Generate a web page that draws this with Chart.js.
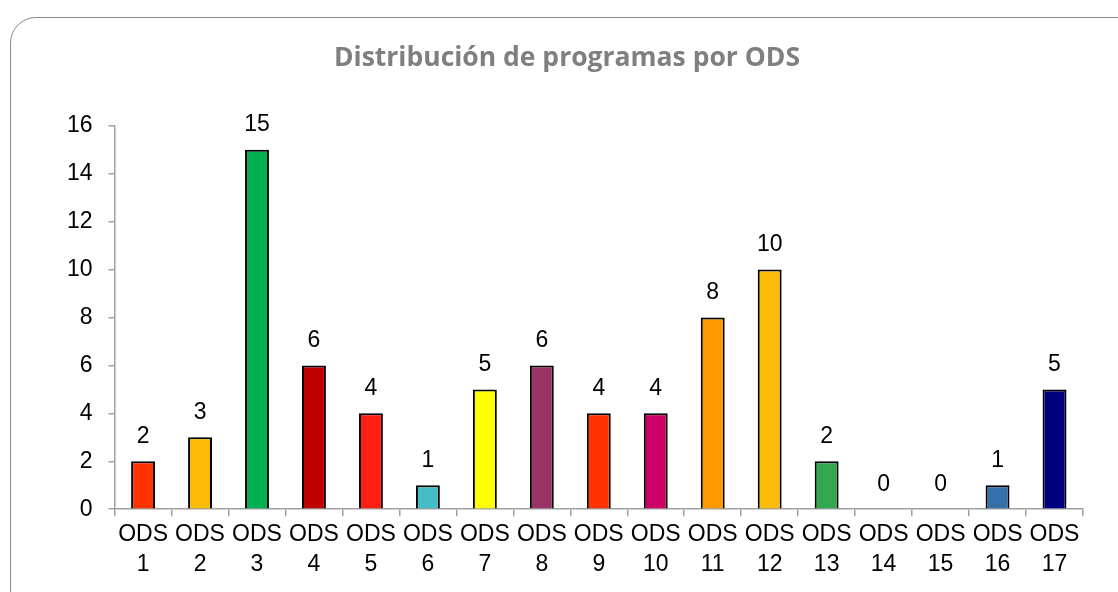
<!DOCTYPE html>
<html>
<head>
<meta charset="utf-8">
<script src="https://cdn.jsdelivr.net/npm/chart.js@4.4.1/dist/chart.umd.min.js"></script>
<style>
  html, body { margin: 0; padding: 0; background: #fff; }
  #wrap { position: relative; width: 1118px; height: 592px; overflow: hidden; }
  #frame {
    position: absolute; left: 10px; top: 17px; width: 1200px; height: 700px;
    border: 1.5px solid #8a8a8a; border-radius: 26px; box-sizing: border-box;
  }
  #chart { position: absolute; left: 0; top: 0; }
</style>
</head>
<body>
<div id="wrap">
  <div id="frame"></div>
  <canvas id="chart" width="1118" height="592"></canvas>
</div>
<script>
const titleText = "Distribución de programas por ODS";
const categories = [
  ["ODS", "1"], ["ODS", "2"], ["ODS", "3"], ["ODS", "4"], ["ODS", "5"],
  ["ODS", "6"], ["ODS", "7"], ["ODS", "8"], ["ODS", "9"], ["ODS", "10"],
  ["ODS", "11"], ["ODS", "12"], ["ODS", "13"], ["ODS", "14"], ["ODS", "15"],
  ["ODS", "16"], ["ODS", "17"],
];
const programCounts = [2, 3, 15, 6, 4, 1, 5, 6, 4, 4, 8, 10, 2, 0, 0, 1, 5];
const barColours = [
  "#FF3300", "#FABB06", "#00AF50", "#C00000", "#FF1E12", "#45BCC6",
  "#FFFF00", "#993366", "#FF3300", "#CC0066", "#FF9900", "#FABB06",
  "#33A650", "#FFFFFF", "#FFFFFF", "#3670A8", "#000080",
];

const labelFont = "'Liberation Sans', Arial, sans-serif";

// draws the value above each bar
const valueLabels = {
  id: "valueLabels",
  afterDatasetsDraw(chart) {
    const ctx = chart.ctx;
    const meta = chart.getDatasetMeta(0);
    ctx.save();
    ctx.font = "23px " + labelFont;
    ctx.fillStyle = "#000";
    ctx.textAlign = "center";
    ctx.textBaseline = "middle";
    meta.data.forEach((bar, i) => {
      ctx.fillText(String(programCounts[i]), bar.x, bar.y - 25);
    });
    ctx.restore();
  },
};

new Chart(document.getElementById("chart"), {
  type: "bar",
  data: {
    labels: categories,
    datasets: [
      {
        data: programCounts,
        backgroundColor: barColours,
        borderColor: "#000",
        borderWidth: 2,
        borderSkipped: "bottom",
        barPercentage: 0.42,
        categoryPercentage: 1,
      },
    ],
  },
  options: {
    responsive: false,
    animation: false,
    layout: { padding: { left: 51, right: 35, top: 43, bottom: 8 } },
    plugins: {
      legend: { display: false },
      tooltip: { enabled: false },
      title: {
        display: true,
        text: titleText,
        color: "#7F7F7F",
        font: { family: "'Open Sans', sans-serif", size: 26.5, weight: "bold", lineHeight: 1.2 },
        padding: { top: 0, bottom: 51 },
      },
    },
    scales: {
      x: {
        grid: {
          offset: true,
          drawOnChartArea: false,
          color: "#A0A0A0",
          tickLength: 7,
          lineWidth: 1.5,
        },
        border: { color: "#A0A0A0", width: 1.5 },
        ticks: {
          color: "#000",
          font: { family: labelFont, size: 23, lineHeight: 1.3 },
          padding: 4,
          maxRotation: 0,
          autoSkip: false,
        },
      },
      y: {
        min: 0,
        max: 16,
        grid: {
          drawOnChartArea: false,
          color: "#A0A0A0",
          tickLength: 6,
          lineWidth: 1.5,
        },
        border: { color: "#A0A0A0", width: 1.5 },
        ticks: {
          stepSize: 2,
          color: "#000",
          font: { family: labelFont, size: 23 },
          padding: 16,
        },
      },
    },
  },
  plugins: [valueLabels],
});
</script>
</body>
</html>
